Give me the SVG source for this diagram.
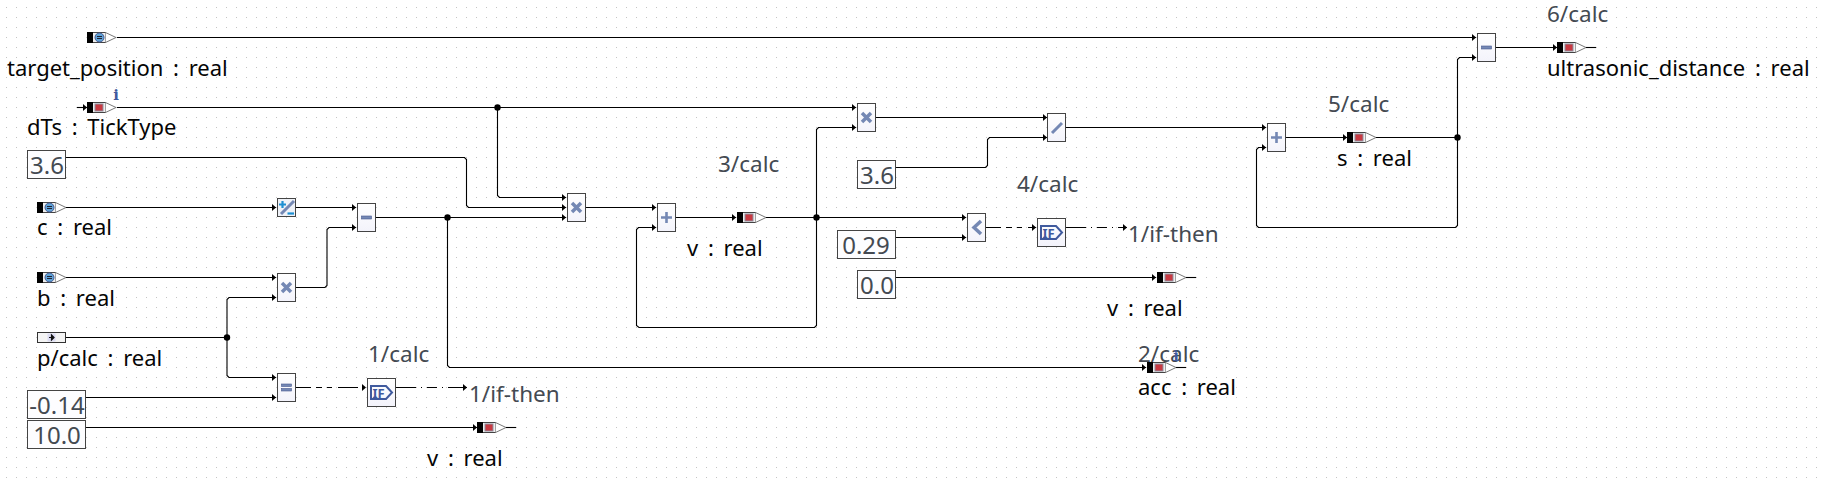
<svg xmlns="http://www.w3.org/2000/svg" width="1826" height="484" viewBox="0 0 1826 484">
<style>
text{font-family:"Noto Sans","Open Sans","Liberation Sans",sans-serif;font-size:22px}
.n{fill:#050505;word-spacing:4px}.c{fill:#444a52;font-size:22.500px}.k{fill:#444a52;font-size:24px;text-anchor:middle}
.w{fill:none;stroke:#000;stroke-width:1.100;marker-end:url(#a)}
.w0{fill:none;stroke:#000;stroke-width:1.100}
.d{stroke-dasharray:15 5 6 5 5 6 20}
.e{stroke-dasharray:20 5 1 5 10 5 1 5 20}
.b{fill:url(#g);stroke:#444;stroke-width:1}
.kb{fill:#fdfdff;stroke:#444;stroke-width:1}
.ic{fill:#7488b4;stroke:#46588f;stroke-width:.6}
.if{fill:none;stroke:#3f5a9e;stroke-width:2}
.j{fill:#000}
.inf{font-family:"DejaVu Serif",serif;font-size:15px;font-weight:700;fill:#3f5a9e;text-anchor:middle}
</style>
<defs>
<pattern id="grid" width="10" height="10" patternUnits="userSpaceOnUse"><rect x="6" y="7" width="1" height="1" fill="#c4c4c4"/></pattern>
<linearGradient id="g" x1="0" y1="0" x2="0" y2="1"><stop offset="0" stop-color="#fff"/><stop offset="1" stop-color="#f3f3fb"/></linearGradient>
<marker id="a" markerUnits="userSpaceOnUse" markerWidth="6" markerHeight="9" refX="5" refY="4.500" orient="auto"><path d="M1 1L5 4.500L1 8Z" fill="#000"/></marker>
<g id="portOut"><rect x=".5" y=".5" width="18" height="10" fill="#f0f0f0" stroke="#444"/><rect x="0" y="0" width="6" height="11" fill="#000"/><rect x="8" y="2" width="8" height="7" fill="#c93a42" stroke="#8d8d9d"/><path d="M18.500 .5L29 5.500L18.500 10.500" fill="#fff" stroke="#777"/></g>
<g id="portIn"><rect x=".5" y=".5" width="18" height="10" fill="#f0f0f0" stroke="#444"/><rect x="0" y="0" width="6" height="11" fill="#000"/><circle cx="12.500" cy="5.500" r="4.500" fill="#5ea2d6" stroke="#46588f"/><rect x="10" y="4" width="5" height="1" fill="#223"/><rect x="10" y="6" width="5" height="1" fill="#223"/><path d="M18.500 .5L29 5.500L18.500 10.500" fill="#fff" stroke="#777"/></g>
<g id="mul"><path d="M-4.500 -4.500L4.500 4.500M4.500 -4.500L-4.500 4.500" fill="none" stroke="#7488b4" stroke-width="3.500"/></g>
<g id="plus"><path d="M0 -5.500V5.500M-5.500 0H5.500" fill="none" stroke="#7488b4" stroke-width="2.600"/></g>
<g id="minus"><rect x="-5" y="-1.500" width="10" height="3" class="ic"/></g>
<g id="eq"><rect x="-5" y="-3.500" width="10" height="2.500" class="ic"/><rect x="-5" y="1" width="10" height="2.500" class="ic"/></g>
<g id="ifi"><path d="M-10.500 -6.500H4.500L10.500 0L4.500 6.500H-10.500Z" class="if"/><text x="-3" y="5" style="font-size:13px;font-weight:700;fill:#3f5a9e;text-anchor:middle">IF</text></g>
</defs>
<rect width="1826" height="484" fill="#fff"/>
<rect width="1826" height="484" fill="url(#grid)"/>

<g id="connectors">
<path class="w" d="M117 37.500H1476"/>
<path class="w" d="M1495 47.500H1557"/>
<path class="w" d="M1457.500 137.500V59.500L1459.500 57.500H1476"/>
<path class="w" d="M1286 137.500H1347"/>
<path class="w" d="M1376 137.500H1457.500V225.500L1455.500 227.500H1258.500L1256.500 225.500V149.500L1258.500 147.500H1266"/>
<path class="w" d="M1066 127.500H1266"/>
<path class="w" d="M876 117.500H1047"/>
<path class="w" d="M896 167.500H985.500L987.500 165.500V139.500L989.500 137.500H1047"/>
<path class="w" d="M117 107.500H856"/>
<path class="w" d="M497.500 107.500V195.500L499.500 197.500H566"/>
<path class="w" d="M66 157.500H464.500L466.500 159.500V205.500L468.500 207.500H566"/>
<path class="w" d="M447.500 217.500H566"/>
<path class="w" d="M586 207.500H656"/>
<path class="w" d="M676 217.500H736"/>
<path class="w" d="M766 217.500H966"/>
<path class="w" d="M816.500 217.500V129.500L818.500 127.500H856"/>
<path class="w" d="M816.500 217.500V325.500L814.500 327.500H639L636.500 325.500V229.500L638.500 227.500H656"/>
<path class="w" d="M66 207.500H276"/>
<path class="w" d="M296 207.500H356"/>
<path class="w0" d="M376 217.500H447.500"/>
<path class="w" d="M296 287.500H325L327 285.500V229.500L329 227.500H356"/>
<path class="w" d="M66 277.500H276"/>
<path class="w" d="M66 337.500H227V299.500L229 297.500H276"/>
<path class="w" d="M227 337.500V375.500L229 377.500H276"/>
<path class="w" d="M86 397.500H276"/>
<path class="w" d="M86 427.500H477"/>
<path class="w0" d="M506 427.500H516"/>
<path class="w d" d="M296 387.500H366"/>
<path class="w e" d="M396 387.500H467"/>
<path class="w" d="M447.500 217.500V365.500L449.500 367.500H1146"/>
<path class="w0" d="M1176 367.500H1186"/>
<path class="w" d="M896 237.500H966"/>
<path class="w" d="M896 277.500H1156"/>
<path class="w0" d="M1186 277.500H1196"/>
<path class="w d" d="M986 227.500H1036"/>
<path class="w e" d="M1066 227.500H1127"/>
<path class="w0" d="M1586 47.500H1596"/>
<path class="w" d="M77 107.500H87"/>
<circle class="j" cx="497.500" cy="107.500" r="3.200"/>
<circle class="j" cx="447.500" cy="217.500" r="3.200"/>
<circle class="j" cx="816.500" cy="217.500" r="3.200"/>
<circle class="j" cx="1457.500" cy="137.500" r="3.200"/>
<circle class="j" cx="227" cy="337.500" r="3.200"/>
</g>

<g id="target_position"><use href="#portIn" x="87" y="32"/><text class="n" x="7" y="76">target_position : real</text></g>
<g id="dTs"><use href="#portOut" x="87" y="102"/><text class="inf" x="116" y="100">i</text><text class="n" x="27" y="135">dTs : TickType</text></g>
<g id="const_a"><rect class="kb" x="27.500" y="150.500" width="38" height="28"/><text class="k" x="47" y="174">3.6</text></g>
<g id="c"><use href="#portIn" x="37" y="202"/><text class="n" x="37" y="235">c : real</text></g>
<g id="b"><use href="#portIn" x="37" y="272"/><text class="n" x="37" y="306">b : real</text></g>
<g id="p"><rect x="37.500" y="332.500" width="28" height="10" fill="#f4f4f4" stroke="#333"/><rect x="47.500" y="333.500" width="8" height="8" fill="#dcdcf2"/><path d="M49 337.500H53M51.500 335L54 337.500L51.500 340Z" stroke="#111" stroke-width="1.200" fill="#111"/><text class="n" x="37" y="366">p/calc : real</text></g>
<g id="const_b"><rect class="kb" x="27.500" y="390.500" width="58" height="28"/><text class="k" x="57" y="414">-0.14</text></g>
<g id="const_c"><rect class="kb" x="27.500" y="420.500" width="58" height="28"/><text class="k" x="57" y="444">10.0</text></g>
<g id="div_c"><rect x="277.500" y="198.500" width="18" height="18" fill="#eef1f7" stroke="#444"/><path d="M281 214L294 201" stroke="#7488b4" stroke-width="3"/><path d="M282.500 201V208M279 204.500H286" stroke="#1d8fd2" stroke-width="2.200"/><path d="M287.500 213.500H294" stroke="#1d8fd2" stroke-width="2.200"/></g>
<g id="minus1"><rect class="b" x="357.500" y="203.500" width="18" height="28"/><use href="#minus" x="366.500" y="217.500"/></g>
<g id="mul1"><rect class="b" x="277.500" y="273.500" width="18" height="28"/><use href="#mul" x="286.500" y="287.500"/></g>
<g id="eq1"><rect class="b" x="277.500" y="373.500" width="18" height="28"/><use href="#eq" x="286.500" y="387.500"/></g>
<g id="if1"><rect class="b" x="367.500" y="378.500" width="28" height="28"/><use href="#ifi" x="381.500" y="392.500"/></g>
<text class="c" x="368" y="362">1/calc</text>
<text class="c" x="469" y="402">1/if-then</text>
<g id="v1"><use href="#portOut" x="477" y="422"/><text class="n" x="427" y="466">v : real</text></g>
<g id="mul2"><rect class="b" x="567.500" y="193.500" width="18" height="28"/><use href="#mul" x="576.500" y="207.500"/></g>
<g id="add1"><rect class="b" x="657.500" y="203.500" width="18" height="28"/><use href="#plus" x="666.500" y="217.500"/></g>
<g id="v2"><use href="#portOut" x="737" y="212"/><text class="n" x="687" y="256">v : real</text></g>
<text class="c" x="718" y="172">3/calc</text>
<g id="mul3"><rect class="b" x="857.500" y="103.500" width="18" height="28"/><use href="#mul" x="866.500" y="117.500"/></g>
<g id="const_d"><rect class="kb" x="857.500" y="160.500" width="38" height="28"/><text class="k" x="877" y="184">3.6</text></g>
<g id="div1"><rect class="b" x="1047.500" y="113.500" width="18" height="28"/><path d="M1052 133L1062 123" stroke="#7488b4" stroke-width="3"/></g>
<text class="c" x="1017" y="192">4/calc</text>
<g id="lt1"><rect class="b" x="967.500" y="213.500" width="18" height="28"/><path d="M981 221L974 227.500L981 234" fill="none" stroke="#7488b4" stroke-width="3.500"/></g>
<g id="if2"><rect class="b" x="1037.500" y="218.500" width="28" height="28"/><use href="#ifi" x="1051.500" y="232.500"/></g>
<text class="c" x="1128" y="242">1/if-then</text>
<g id="const_e"><rect class="kb" x="837.500" y="230.500" width="58" height="28"/><text class="k" x="866" y="254">0.29</text></g>
<g id="const_f"><rect class="kb" x="857.500" y="270.500" width="38" height="28"/><text class="k" x="877" y="294">0.0</text></g>
<g id="v3"><use href="#portOut" x="1157" y="272"/><text class="n" x="1107" y="316">v : real</text></g>
<g id="acc"><use href="#portOut" x="1147" y="362"/><text class="c" x="1138" y="362">2/calc</text><text class="inf" x="1176" y="361">i</text><text class="n" x="1138" y="395">acc : real</text></g>
<g id="add2"><rect class="b" x="1267.500" y="123.500" width="18" height="28"/><use href="#plus" x="1276.500" y="137.500"/></g>
<g id="s"><use href="#portOut" x="1347" y="132"/><text class="n" x="1337" y="166">s : real</text></g>
<text class="c" x="1328" y="112">5/calc</text>
<g id="minus2"><rect class="b" x="1477.500" y="33.500" width="18" height="28"/><use href="#minus" x="1486.500" y="47.500"/></g>
<g id="ultrasonic_distance"><use href="#portOut" x="1557" y="42"/><text class="n" x="1547" y="76">ultrasonic_distance : real</text></g>
<text class="c" x="1547" y="22">6/calc</text>
</svg>
